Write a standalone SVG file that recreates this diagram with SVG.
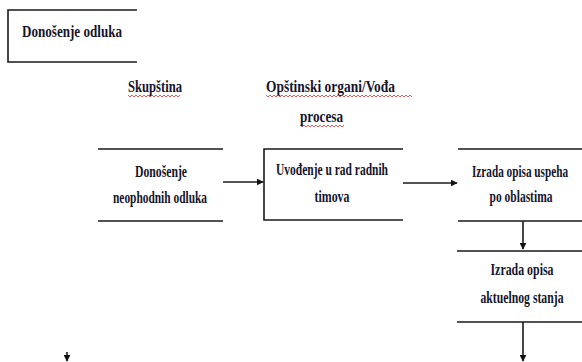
<svg xmlns="http://www.w3.org/2000/svg" width="582" height="362" viewBox="0 0 582 362">
<defs>
<style>
.ln{stroke:#1a1a1a;stroke-width:1.6;fill:none}
.t{font-family:"Liberation Serif","DejaVu Serif",serif;font-weight:bold;font-size:17px;fill:#14142a}
.c{text-anchor:middle}
.sq{stroke:#e03030;stroke-width:0.8;fill:none}
</style>
<marker id="ah" viewBox="0 0 10 10" refX="9" refY="5" markerWidth="7" markerHeight="7" markerUnits="userSpaceOnUse" orient="auto">
<path d="M0,0 L10,5 L0,10 Z" fill="#111"/>
</marker>
</defs>
<rect width="582" height="362" fill="#fff"/>
<g id="title">
<path class="ln" d="M137,10 H8 V62 H137"/>
<text class="t" x="22" y="37" textLength="100" lengthAdjust="spacingAndGlyphs">Donošenje odluka</text>
</g>
<g id="lane-skupstina">
<text class="t" x="128" y="92" textLength="54" lengthAdjust="spacingAndGlyphs">Skupština</text>
<path class="sq" d="M128,95 l2,2 l2,-2 l2,2 l2,-2 l2,2 l2,-2 l2,2 l2,-2 l2,2 l2,-2 l2,2 l2,-2 l2,2 l2,-2 l2,2 l2,-2 l2,2 l2,-2 l2,2 l2,-2 l2,2 l2,-2 l2,2 l2,-2 l2,2 l2,-2"/>
</g>
<g id="lane-opstinski">
<text class="t" x="266" y="92" textLength="129" lengthAdjust="spacingAndGlyphs">Opštinski organi/Vođa</text>
<text class="t" x="300" y="122" textLength="43" lengthAdjust="spacingAndGlyphs">procesa</text>
<path class="sq" d="M266,95 l2,2 l2,-2 l2,2 l2,-2 l2,2 l2,-2 l2,2 l2,-2 l2,2 l2,-2 l2,2 l2,-2 l2,2 l2,-2 l2,2 l2,-2 l2,2 l2,-2 l2,2 l2,-2 l2,2 l2,-2 l2,2 l2,-2 l2,2 l2,-2 l2,2 l2,-2 l2,2 l2,-2 l2,2 l2,-2 l2,2 l2,-2 l2,2 l2,-2 l2,2 l2,-2 l2,2 l2,-2 l2,2 l2,-2 l2,2 l2,-2 l2,2 l2,-2 l2,2 l2,-2 l2,2 l2,-2 l2,2 l2,-2 l2,2 l2,-2 l2,2 l2,-2 l2,2 l2,-2 l2,2 l2,-2 l2,2 l2,-2 l2,2 l2,-2 l2,2 l2,-2 l2,2 l2,-2 l2,2 l2,-2 l2,2 l2,-2 l2,2"/>
<path class="sq" d="M300,125 l2,2 l2,-2 l2,2 l2,-2 l2,2 l2,-2 l2,2 l2,-2 l2,2 l2,-2 l2,2 l2,-2 l2,2 l2,-2 l2,2 l2,-2 l2,2 l2,-2 l2,2 l2,-2 l2,2 l2,-2"/>
</g>
<g id="node1">
<path class="ln" d="M98,149 H223 M98,221 H223"/>
<text class="t c" x="161" y="177" textLength="52" lengthAdjust="spacingAndGlyphs">Donošenje</text>
<text class="t c" x="160" y="203" textLength="94" lengthAdjust="spacingAndGlyphs">neophodnih odluka</text>
</g>
<g id="node2">
<path class="ln" d="M403,149 H264 V220 H403"/>
<text class="t c" x="332" y="175" textLength="112" lengthAdjust="spacingAndGlyphs">Uvođenje u rad radnih</text>
<text class="t c" x="332" y="202" textLength="35" lengthAdjust="spacingAndGlyphs">timova</text>
</g>
<g id="node3">
<path class="ln" d="M458,149 H582 M458,221 H582"/>
<text class="t c" x="520" y="177" textLength="96" lengthAdjust="spacingAndGlyphs">Izrada opisa uspeha</text>
<text class="t c" x="521" y="202" textLength="63" lengthAdjust="spacingAndGlyphs">po oblastima</text>
</g>
<g id="node4">
<path class="ln" d="M457,251 H582 M457,322 H582"/>
<text class="t c" x="522" y="275" textLength="63" lengthAdjust="spacingAndGlyphs">Izrada opisa</text>
<text class="t c" x="522" y="303" textLength="83" lengthAdjust="spacingAndGlyphs">aktuelnog stanja</text>
</g>
<g id="connectors">
<line class="ln" x1="223" y1="182" x2="263" y2="182" marker-end="url(#ah)"/>
<line class="ln" x1="403" y1="183" x2="457" y2="183" marker-end="url(#ah)"/>
<line class="ln" x1="523" y1="221" x2="523" y2="249" marker-end="url(#ah)"/>
<line class="ln" x1="523" y1="322" x2="523" y2="361" marker-end="url(#ah)"/>
<line class="ln" x1="67" y1="352" x2="67" y2="361" marker-end="url(#ah)"/>
</g>
</svg>
